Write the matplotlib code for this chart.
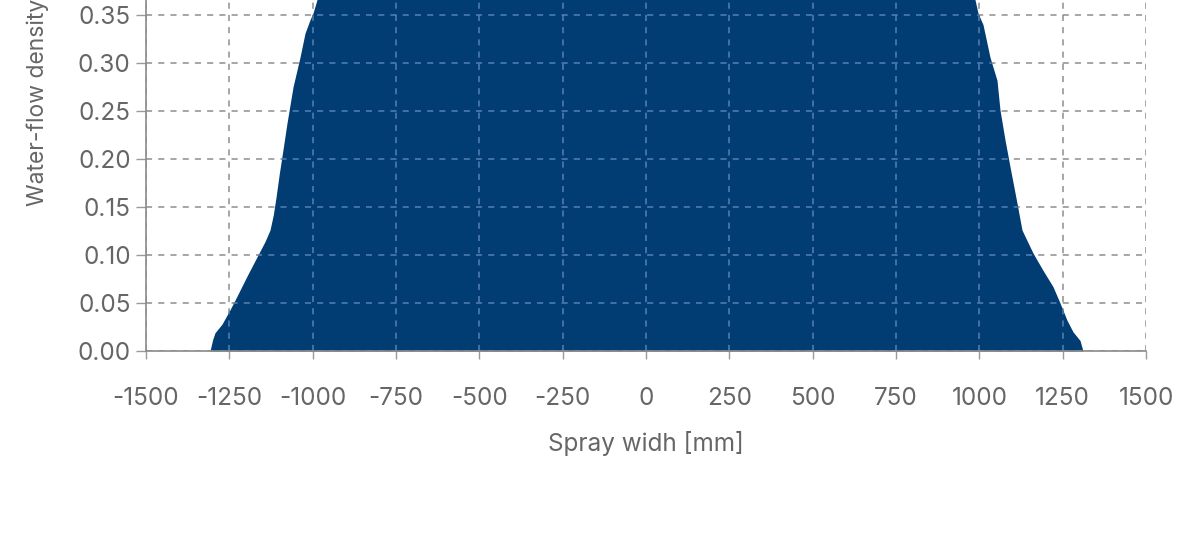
import matplotlib
matplotlib.use("Agg")
import matplotlib.pyplot as plt
import numpy as np

plt.rcParams['font.family'] = ['Inter', 'DejaVu Sans']
plt.rcParams['axes.unicode_minus'] = False

# Spray width [mm] and water-flow density
spray_x = [-1308, -1300, -1293, -1272, -1248, -1233, -1197, -1164, -1143, -1128,
           -1118, -1110, -1100, -1088, -1077, -1059, -1038, -1023, -1008, -999,
           -987, -950, -900, -750, -500, -250, 0, 250, 500, 750,
           900, 950, 987, 996, 1011, 1032, 1053, 1062, 1077, 1092,
           1113, 1128, 1161, 1191, 1221, 1242, 1263, 1281, 1302, 1311]
density = [0.000, 0.012, 0.019, 0.028, 0.043, 0.053, 0.078, 0.100, 0.114, 0.126,
           0.142, 0.160, 0.185, 0.212, 0.2375, 0.275, 0.306, 0.331, 0.345, 0.352,
           0.366, 0.395, 0.410, 0.420, 0.415, 0.420, 0.425, 0.420, 0.415, 0.420,
           0.410, 0.395, 0.366, 0.352, 0.340, 0.306, 0.282, 0.251, 0.220, 0.192,
           0.154, 0.126, 0.102, 0.084, 0.067, 0.050, 0.032, 0.020, 0.011, 0.000]

x_ticks = [-1500, -1250, -1000, -750, -500, -250, 0, 250, 500, 750, 1000, 1250, 1500]
y_ticks = [0.00, 0.05, 0.10, 0.15, 0.20, 0.25, 0.30, 0.35]

fill_color = '#013c73'
text_color = '#666666'
grid_color = '#8e8e8e'
inner_grid_color = '#5580b2'

fig = plt.figure(figsize=(12, 5.5), dpi=100)
ax = fig.add_axes([146/1200, 199/550, 1000/1200, 432/550])

poly = ax.fill_between(spray_x, density, 0, color=fill_color, linewidth=0, zorder=2)

ax.set_xlim(-1500, 1500)
ax.set_ylim(0, 0.45)
ax.set_xticks(x_ticks)
ax.set_xticklabels([str(v) for v in x_ticks])
ax.set_yticks(y_ticks)
ax.set_yticklabels([f"{v:.2f}" for v in y_ticks])

ax.set_axisbelow(True)
ax.grid(True, color=grid_color, linestyle=(0, (4, 4)), linewidth=1.1)

# lighter grid visible over the filled area
clip = poly.get_paths()[0]
for xv in x_ticks:
    ln = ax.axvline(xv, color=inner_grid_color, linestyle=(0, (4, 4)), linewidth=1.1, zorder=3)
    ln.set_clip_path(clip, ax.transData)
for yv in y_ticks:
    ln = ax.axhline(yv, color=inner_grid_color, linestyle=(0, (4, 4)), linewidth=1.1, zorder=3)
    ln.set_clip_path(clip, ax.transData)

for s in ['top', 'right']:
    ax.spines[s].set_visible(False)
for s in ['left', 'bottom']:
    ax.spines[s].set_color('#8a8a8a')
    ax.spines[s].set_linewidth(1.2)
    ax.spines[s].set_zorder(4)

ax.tick_params(axis='x', colors='#9a9a9a', length=6, width=1, pad=20,
               labelsize=17.5, labelcolor=text_color)
ax.tick_params(axis='y', colors='#9a9a9a', length=7, width=1, pad=4,
               labelsize=17.5, labelcolor=text_color)

ax.set_xlabel('Spray widh [mm]', fontsize=17.5, color=text_color, labelpad=15)
fig.text(38/1200, 1 - 206/550, 'Water-flow density', rotation=90,
         ha='center', va='bottom', fontsize=16.5, color=text_color)

fig.savefig('out.png', dpi=100)
